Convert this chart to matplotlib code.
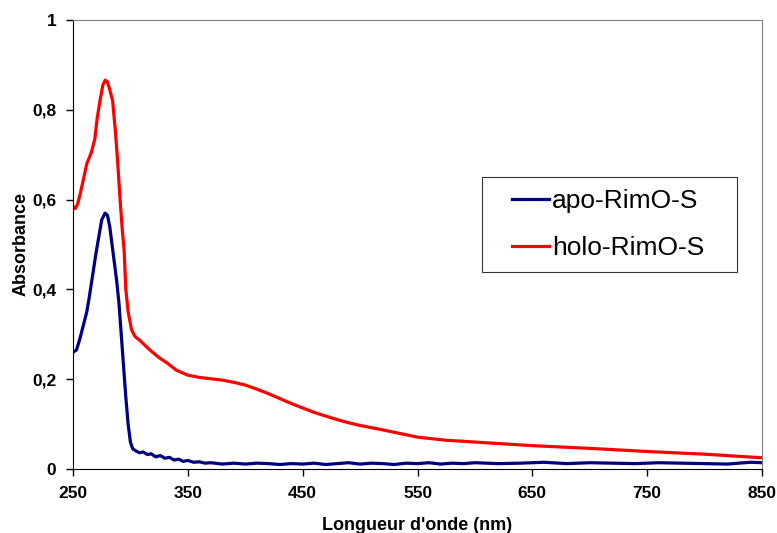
import matplotlib.pyplot as plt
from matplotlib.legend_handler import HandlerLine2D

# holo-RimO-S spectrum
holo_nm = [250, 252, 254, 256, 259, 262, 266, 269, 271, 273.5, 276, 278, 280,
           282, 284.5, 287, 289, 291, 293, 294.5, 296, 298, 301, 304, 308, 317,
           325, 332, 340, 350, 360, 370, 380, 390, 400, 410, 420, 430, 440, 450,
           460, 470, 480, 490, 500, 520, 550, 575, 600, 650, 700, 750, 800, 850]
holo_abs = [0.585, 0.580, 0.590, 0.610, 0.644, 0.680, 0.705, 0.735, 0.780, 0.820,
            0.855, 0.866, 0.862, 0.845, 0.820, 0.750, 0.680, 0.600, 0.530, 0.488,
            0.400, 0.350, 0.310, 0.295, 0.287, 0.265, 0.248, 0.236, 0.220, 0.209,
            0.204, 0.201, 0.198, 0.193, 0.187, 0.178, 0.168, 0.157, 0.146, 0.136,
            0.126, 0.118, 0.110, 0.103, 0.097, 0.087, 0.071, 0.064, 0.060, 0.052,
            0.046, 0.039, 0.033, 0.025]

# apo-RimO-S spectrum
apo_nm = [250, 253, 256, 258, 260, 262, 264, 267, 270, 272, 275, 278, 280, 282,
          284, 286, 288, 290, 292, 294, 296, 298, 300, 302, 305, 308, 311, 315,
          318, 322, 326, 330, 334, 338, 342, 346, 350, 355, 360, 365, 370, 380,
          390, 400, 410, 420, 430, 440, 450, 460, 470, 480, 490, 500, 510, 520,
          530, 540, 550, 560, 570, 580, 590, 600, 620, 640, 660, 680, 700, 720,
          740, 760, 780, 800, 820, 840, 850]
apo_abs = [0.260, 0.265, 0.290, 0.310, 0.330, 0.350, 0.380, 0.430, 0.480, 0.510,
           0.555, 0.570, 0.565, 0.540, 0.500, 0.460, 0.420, 0.370, 0.300, 0.230,
           0.160, 0.100, 0.060, 0.045, 0.040, 0.036, 0.038, 0.032, 0.034, 0.027,
           0.030, 0.024, 0.026, 0.020, 0.022, 0.017, 0.019, 0.015, 0.016, 0.013,
           0.014, 0.011, 0.013, 0.011, 0.013, 0.012, 0.010, 0.012, 0.011, 0.013,
           0.010, 0.012, 0.014, 0.011, 0.013, 0.012, 0.010, 0.013, 0.012, 0.014,
           0.011, 0.013, 0.012, 0.014, 0.012, 0.013, 0.015, 0.012, 0.014, 0.013,
           0.012, 0.014, 0.013, 0.012, 0.011, 0.015, 0.014]

xticks = [250, 350, 450, 550, 650, 750, 850]
yticks = [0, 0.2, 0.4, 0.6, 0.8, 1]
ylabels = ['0', '0,2', '0,4', '0,6', '0,8', '1']

W, H = 777, 533
fig = plt.figure(figsize=(W / 100, H / 100), dpi=100)
ax = fig.add_axes([73 / W, 1 - 469 / H, 689 / W, 449 / H])

ax.plot(apo_nm, apo_abs, color='#000080', lw=2.3, label='apo-RimO-S')
ax.plot(holo_nm, holo_abs, color='#ff0000', lw=2.3, label='holo-RimO-S')

ax.set_xlim(250, 850)
ax.set_ylim(0, 1)
ax.set_xticks(xticks)
ax.set_yticks(yticks)
ax.set_yticklabels(ylabels)
for lab in ax.get_xticklabels() + ax.get_yticklabels():
    lab.set_fontfamily('Liberation Sans')
    lab.set_fontweight('bold')
    lab.set_fontsize(12.5)
ax.tick_params(direction='out', length=5, width=1, pad=7)
ax.tick_params(axis='x', pad=7)

ax.spines['top'].set_color('#808080')
ax.spines['right'].set_color('#808080')
ax.spines['left'].set_color('black')
ax.spines['bottom'].set_color('black')

ax.set_xlabel("Longueur d'onde (nm)", fontfamily='Liberation Sans',
              fontweight='bold', fontsize=13, labelpad=12)
ax.set_ylabel('Absorbance', fontfamily='Liberation Sans',
              fontweight='bold', fontsize=13, labelpad=2)

# legend box: 482..737 x 177..272 px
fs_px = 19 * 100 / 72
bbox = ((482 - 73) / 689, (469 - 272) / 449, 255 / 689, 95 / 449)
leg = ax.legend(loc='upper left', bbox_to_anchor=bbox, mode='expand',
                prop={'family': 'Liberation Sans', 'size': 19},
                frameon=True, fancybox=False,
                handlelength=55 / fs_px, handletextpad=3 / fs_px,
                borderpad=0.45, labelspacing=0.89, borderaxespad=0,
                handler_map={plt.Line2D: HandlerLine2D(xpad=18 / fs_px)})
leg.get_frame().set_edgecolor('black')
leg.get_frame().set_linewidth(0.8)

fig.savefig('out.png', dpi=100)
